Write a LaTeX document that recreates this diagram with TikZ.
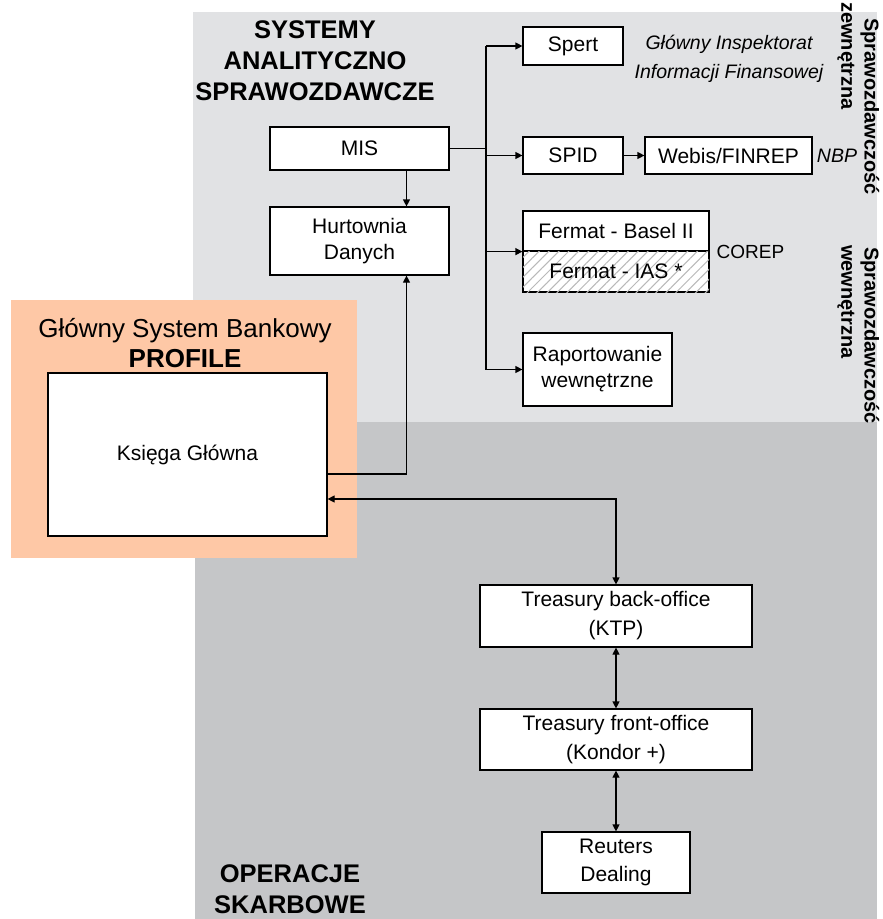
\documentclass[tikz,border=0pt]{standalone}
\usepackage{fontspec}
\setmainfont{Liberation Sans}
\definecolor{lightpanel}{HTML}{E1E2E4}
\definecolor{darkpanel}{HTML}{C5C6C8}
\definecolor{peach}{HTML}{FEC8A6}
\usetikzlibrary{arrows.meta, patterns.meta}

\begin{document}
\begin{tikzpicture}[
		x=1pt, y=-1pt,
		box/.style={draw, line width=1.2pt, fill=white, align=center, inner sep=0pt, font=\fontsize{21}{26}\selectfont},
		hatched/.style={box, postaction={pattern={Lines[angle=45, distance=7pt, line width=1pt]}, pattern color=gray!55}},
		heading/.style={align=center, font=\fontsize{25.5}{31}\selectfont\bfseries},
		side/.style={rotate=-90, anchor=west, inner sep=0pt, font=\fontsize{20}{24}\selectfont\bfseries},
		note/.style={align=center, inner sep=0pt, font=\fontsize{19.5}{29}\selectfont\itshape},
		arrow/.style={-{Triangle[length=7pt, width=7pt]}, line width=1.2pt},
		twoway/.style={{Triangle[length=7pt, width=7pt]}-{Triangle[length=7pt, width=7pt]}, line width=1.2pt}
	]
	\useasboundingbox (0,0) rectangle (883,919);
	% panels
	\fill[lightpanel] (193,12) rectangle (877,422);
	\fill[darkpanel] (195,422) rectangle (877,919);
	\fill[peach] (11,300) rectangle (357,558);

	\node[heading] (sys) at (315,61) {SYSTEMY\\ANALITYCZNO\\SPRAWOZDAWCZE};
	\node[heading, anchor=north] (ops) at (290,861) {OPERACJE\\SKARBOWE};
	\node[align=center, font=\fontsize{26}{30}\selectfont] (gsb) at (185,343) {Główny System Bankowy\\\textbf{PROFILE}};

	% boxes
	\node[box, minimum width=179, minimum height=43] (mis) at (359.5,148.5) {MIS};
	\node[box, minimum width=179, minimum height=68] (hd) at (359.5,241) {Hurtownia\\Danych};
	\node[box, minimum width=279, minimum height=163] (ks) at (187.5,454.5) {Księga Główna};
	\node[box, minimum width=100, minimum height=38] (spert) at (573,46) {Spert};
	\node[box, minimum width=100, minimum height=37] (spid) at (573,155.5) {SPID};
	\node[box, minimum width=167, minimum height=37] (webis) at (728.5,155.5) {Webis/FINREP};
	\node[box, minimum width=186, minimum height=40] (basel) at (616,231) {Fermat - Basel II};
	\node[hatched, minimum width=186, minimum height=41] (ias) at (616,271.5) {Fermat - IAS *};
	\node[box, minimum width=149, minimum height=73] (rap) at (597.5,369.5) {Raportowanie\\wewnętrzne};
	\node[box, minimum width=272, minimum height=62, font=\fontsize{21}{29}\selectfont] (tbo) at (616,616) {Treasury back-office\\(KTP)};
	\node[box, minimum width=272, minimum height=61, font=\fontsize{21}{29}\selectfont] (tfo) at (616,739.5) {Treasury front-office\\(Kondor +)};
	\node[box, minimum width=148, minimum height=61, font=\fontsize{21}{28}\selectfont] (reu) at (616,862.5) {Reuters\\Dealing};

	% labels
	\node[note] (giif) at (729,58.5) {Główny Inspektorat\\Informacji Finansowej};
	\node[note] (nbp) at (837,156) {NBP};
	\node[inner sep=0pt, font=\fontsize{19}{23}\selectfont] (corep) at (750.5,252) {COREP};
	\node[side] (ext1) at (870,18) {Sprawozdawczość};
	\node[side] (ext2) at (846,2) {zewnętrzna};
	\node[side] (int1) at (870,247) {Sprawozdawczość};
	\node[side] (int2) at (846,245) {wewnętrzna};

	% connectors
	\coordinate (bus) at (486,148.5);
	\draw[line width=1.2pt] (mis.east) -- (bus);
	\draw[line width=1.2pt] (bus |- spert.west) -- (bus |- rap.west);
	\foreach \t in {spert,spid,rap} {
			\draw[arrow] (bus |- \t.west) -- (\t.west);
		}
	\draw[arrow] (bus |- basel.south west) -- (basel.south west);
	\draw[arrow] (spid) -- (webis);
	\draw[arrow] ([xshift=47pt]mis.south) -- ([xshift=47pt]hd.north);
	\draw[arrow] ([yshift=-19.5pt]ks.east) -| ([xshift=47pt]hd.south);
	\draw[twoway] ([yshift=-44.5pt]ks.east) -| (tbo.north);
	\draw[twoway] (tbo) -- (tfo);
	\draw[twoway] (tfo) -- (reu);
\end{tikzpicture}
\end{document}
